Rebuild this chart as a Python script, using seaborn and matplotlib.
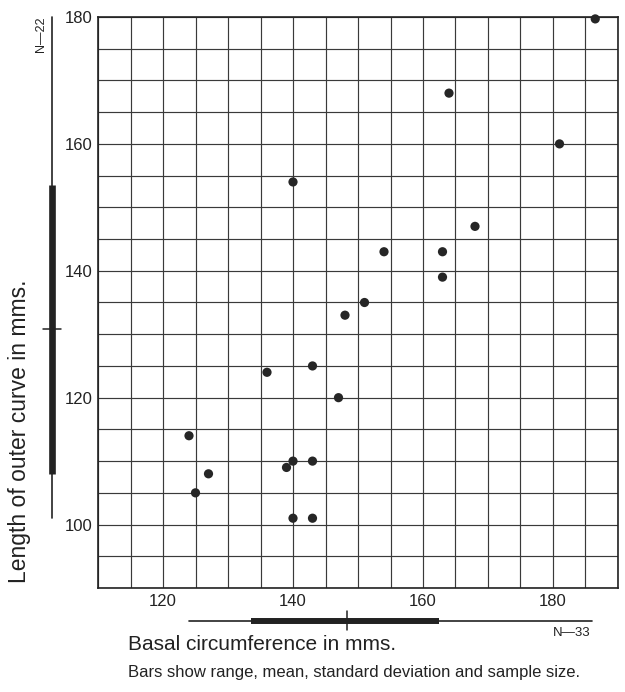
import numpy as np
import pandas as pd
import matplotlib
matplotlib.use("Agg")
import matplotlib.pyplot as plt
from matplotlib.transforms import blended_transform_factory
import seaborn as sns

# olcumler (okunan degerler)
basal = [186.5, 164, 181, 140, 168, 154, 163, 163, 151, 148, 136, 143, 147,
         124, 127, 125, 140, 139, 143, 140, 143]
length = [179.7, 168, 160, 154, 147, 143, 143, 139, 135, 133, 124, 125, 120,
          114, 108, 105, 110, 109, 110, 101, 101]

# bar ozetleri: aralik, std sapma, ortalama, n
x_range = [124, 186]
x_sd = [133.5, 162.5]
x_mean = 148.3
x_n = 33
y_range = [101, 180]
y_sd = [108, 153.5]
y_mean = 130.8
y_n = 22

x_ticks = [120, 140, 160, 180]
y_ticks = [100, 120, 140, 160, 180]

sns.set_style("white")
plt.rcParams["font.family"] = ["Liberation Sans", "DejaVu Sans"]

veri = pd.DataFrame({"basal": basal, "length": length})

fig = plt.figure(figsize=(6.25, 6.92), dpi=100)
ax = fig.add_axes([98 / 625, 104 / 692, 520 / 625, 571 / 692])

sns.scatterplot(data=veri, x="basal", y="length", ax=ax, color="#262626",
                s=44, edgecolor="none", zorder=3, clip_on=False)

ax.set_xlim(110, 190)
ax.set_ylim(90, 180)
ax.set_xticks(x_ticks)
ax.set_yticks(y_ticks)
ax.set_xticks(np.arange(110, 191, 5), minor=True)
ax.set_yticks(np.arange(90, 181, 5), minor=True)
ax.grid(True, which="both", color="#3a3a3a", lw=0.85)
ax.tick_params(axis="x", which="major", length=0, pad=4, labelsize=12, colors="#222")
ax.tick_params(axis="y", which="major", length=3, width=0.9, pad=1, labelsize=12, colors="#222")
ax.tick_params(which="minor", length=0)
ax.set_xlabel("")
ax.set_ylabel("")
for sp in ax.spines.values():
    sp.set_color("#222")
    sp.set_linewidth(1.2)

# sol bar (uzunluk)
ty = blended_transform_factory(ax.transAxes, ax.transData)
bx = -0.0885
ax.plot([bx, bx], y_range, color="#222", lw=1.2, transform=ty, clip_on=False)
ax.plot([bx, bx], y_sd, color="#222", lw=4.8, transform=ty, clip_on=False,
        solid_capstyle="butt")
ax.plot([bx - 0.018, bx + 0.018], [y_mean, y_mean], color="#222", lw=1.1,
        transform=ty, clip_on=False)
ax.text(-0.110, 180, f"N—{y_n}", rotation=90, ha="center", va="top",
        fontsize=9, color="#222", transform=ty)

# alt bar (cevre)
tx = blended_transform_factory(ax.transData, ax.transAxes)
by = -0.057
ax.plot(x_range, [by, by], color="#222", lw=1.2, transform=tx, clip_on=False)
ax.plot(x_sd, [by, by], color="#222", lw=4.3, transform=tx, clip_on=False,
        solid_capstyle="butt")
ax.plot([x_mean, x_mean], [by - 0.016, by + 0.016], color="#222", lw=1.1,
        transform=tx, clip_on=False)
ax.text(185.8, -0.078, f"N—{x_n}", ha="right", va="center",
        fontsize=9.5, color="#222", transform=tx)

# etiketler
fig.text(20 / 625, 1 - 431 / 692, "Length of outer curve in mms.", rotation=90,
         ha="center", va="center", fontsize=16.5, color="#222")
fig.text(128 / 625, 1 - 645 / 692, "Basal circumference in mms.",
         ha="left", va="center", fontsize=15, color="#222")
fig.text(128 / 625, 1 - 673 / 692,
         "Bars show range, mean, standard deviation and sample size.",
         ha="left", va="center", fontsize=12, color="#222")

fig.savefig("out.png", dpi=100)
